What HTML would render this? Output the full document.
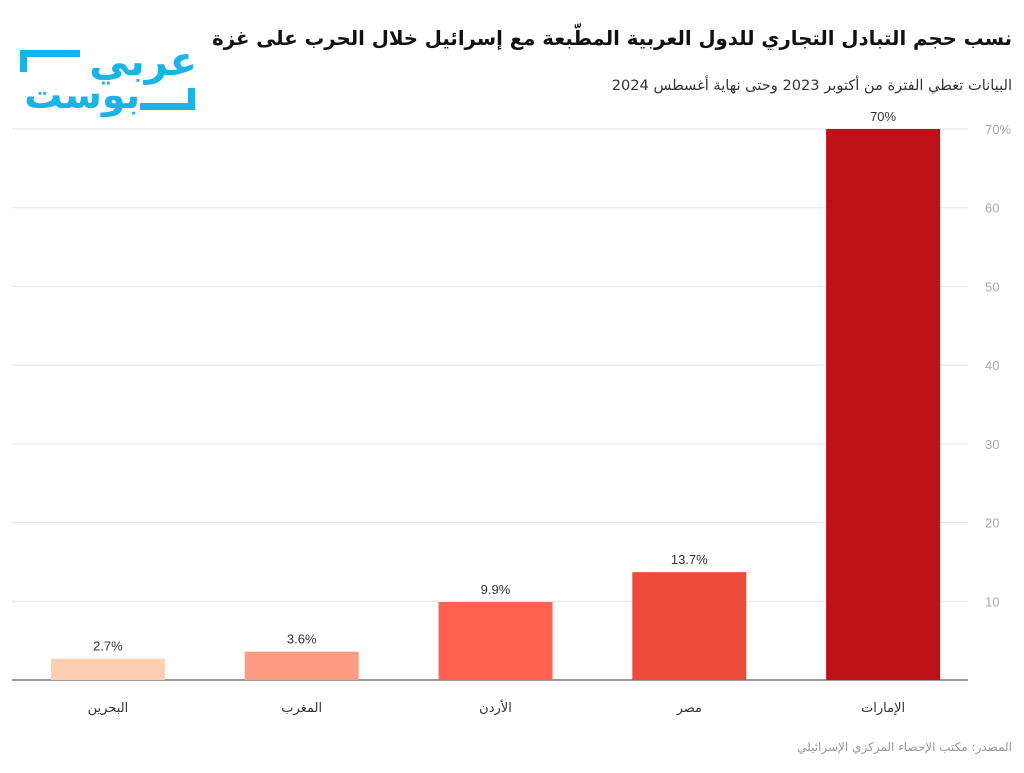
<!DOCTYPE html>
<html><head><meta charset="utf-8"><style>
body{margin:0;background:#fff;width:1024px;height:773px;overflow:hidden;font-family:"Liberation Sans","Noto Sans CJK SC",sans-serif;position:relative}
.t{position:absolute;right:12px;direction:rtl;text-align:right;white-space:nowrap;font-family:"DejaVu Sans",sans-serif}
.lg{position:absolute;color:#1ab3e6;font-weight:bold;font-family:"DejaVu Sans",sans-serif;direction:rtl;white-space:nowrap;line-height:1}
svg{position:absolute;left:0;top:0}
</style></head><body>
<svg width="1024" height="773" xmlns="http://www.w3.org/2000/svg" id="chart">
<g fill="#1ab3e6">
<rect x="20" y="50" width="60" height="7"/><rect x="20" y="50" width="7" height="22"/>
<rect x="140" y="103" width="55" height="7"/><rect x="188" y="88" width="7" height="22"/>
</g>
<g id="grid"></g><g id="bars"></g>
</svg>
<div class="lg" style="left:92px;top:42px;font-size:40px;width:105px;text-align:right">عربي</div>
<div class="lg" style="left:18px;top:76px;font-size:38px;width:122px;text-align:right">بوست</div>
<div class="t" style="top:27px;font-size:19.7px;font-weight:bold;color:#111">نسب حجم التبادل التجاري للدول العربية المطّبعة مع إسرائيل خلال الحرب على غزة</div>
<div class="t" style="top:77px;font-size:14.6px;color:#333">البيانات تغطي الفترة من أكتوبر 2023 وحتى نهاية أغسطس 2024</div>
<div class="t" style="top:740px;font-size:12px;color:#999">المصدر: مكتب الإحصاء المركزي الإسرائيلي</div>
<script>
const categories=["البحرين","المغرب","الأردن","مصر","الإمارات"];
const values=[2.7,3.6,9.9,13.7,70];
const labels=["2.7%","3.6%","9.9%","13.7%","70%"];
const colors=["#ffcdb2","#fc9c82","#ff604f","#ec4b3c","#bd1118"];
const ticks=[10,20,30,40,50,60,70];
const tickLabels=["10","20","30","40","50","60","70%"];
const NS="http://www.w3.org/2000/svg";
const x0=12,x1=968,yBase=680,yTop=129,vMax=70,bandStart=11,step=193.8;
const y=v=>yBase-(v/vMax)*(yBase-yTop);
const xc=i=>bandStart+step*(i+0.5);
function mk(t,a,p){const e=document.createElementNS(NS,t);for(const k in a)e.setAttribute(k,a[k]);p.appendChild(e);return e;}
const g=document.getElementById('grid'),b=document.getElementById('bars');
ticks.forEach((t,i)=>{
 const l=mk('line',{x1:x0,x2:x1,y1:y(t),y2:y(t),stroke:'#e3e3e3'},g);
 
 
 const tx=mk('text',{x:985,y:y(t)+5,'font-size':13,fill:'#aaa'},g);tx.textContent=tickLabels[i];
 
 
});
const base=mk('line',{x1:x0,x2:x1,y1:yBase,y2:yBase,stroke:'#333'},g);


categories.forEach((c,i)=>{
 const r=mk('rect',{x:xc(i)-57,y:y(values[i]),width:114,height:yBase-y(values[i]),fill:colors[i]},b);
 
 
 const v=mk('text',{x:xc(i),y:y(values[i])-8,'text-anchor':'middle','font-size':13,fill:'#333'},b);v.textContent=labels[i];
 
 
 const ct=mk('text',{x:xc(i),y:712,'text-anchor':'middle','font-size':13,fill:'#333','font-family':"'DejaVu Sans',sans-serif"},b);ct.textContent=c;
 
 
});
</script>
</body></html>
